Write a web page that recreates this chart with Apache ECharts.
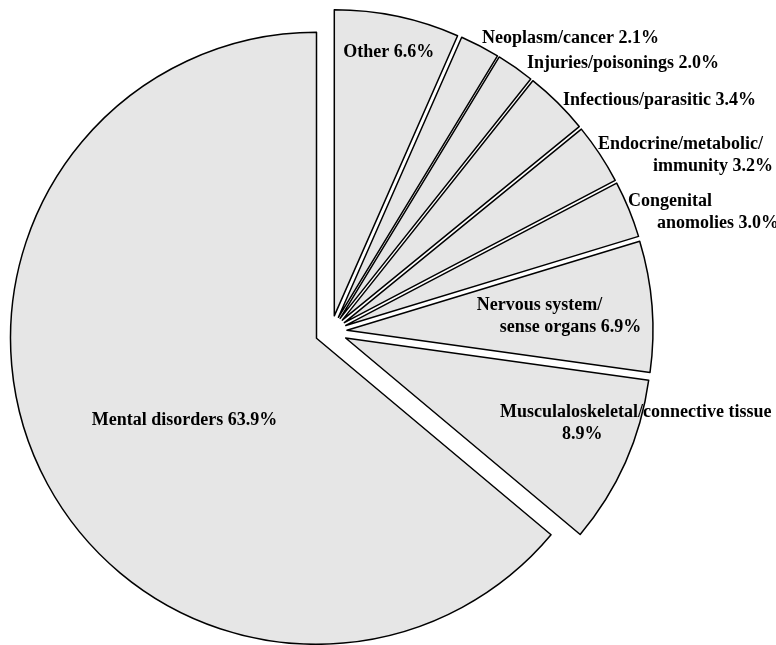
<!DOCTYPE html>
<html>
<head>
<meta charset="utf-8">
<script src="https://cdn.jsdelivr.net/npm/echarts@6/dist/echarts.min.js"></script>
<style>
  html, body { margin: 0; padding: 0; background: #ffffff; }
  #chart { width: 776px; height: 645px; }
</style>
</head>
<body>
<div id="chart"></div>
<script>
// Share of cases by diagnostic group (%), clockwise from 12 o'clock
const categories = [
  'Other',
  'Neoplasm/cancer',
  'Injuries/poisonings',
  'Infectious/parasitic',
  'Endocrine/metabolic/immunity',
  'Congenital anomolies',
  'Nervous system/sense organs',
  'Musculaloskeletal/connective tissue',
  'Mental disorders'
];
const shares = [6.6, 2.1, 2.0, 3.4, 3.2, 3.0, 6.9, 8.9, 63.9];

// Where a label breaks onto a second line, and how far that line is indented
const wrapAfter = [null, null, null, null, 'Endocrine/metabolic/', 'Congenital', 'Nervous system/', 'Musculaloskeletal/connective tissue', null];
const secondLineIndent = [0, 0, 0, 0, 55, 29, 23, 62, 0];

// Label anchor: angle from the slice bisector (deg), distance from the slice apex (x radius), alignment
const labelSpots = [
  { dAng: -0.2, r: 0.880, align: 'center' },
  { dAng: -0.3, r: 1.026, align: 'left' },
  { dAng: 1.26, r: 1.034, align: 'left' },
  { dAng: 0.45, r: 1.019, align: 'left' },
  { dAng: 0.0,  r: 0.994, align: 'left' },
  { dAng: 0.5,  r: 0.993, align: 'left' },
  { dAng: -1.7, r: 0.427, align: 'left' },
  { dAng: 4.9,  r: 0.576, align: 'left' },
  { dAng: -6.75, r: 0.507, align: 'center' }
];

const CENTER = [331, 331.5];
const RADIUS = 306;
const EXPLODE = 16;
const FONT = { fontFamily: 'Liberation Serif', fontWeight: 'bold', fontSize: 18, lineHeight: 22, color: '#000' };

const total = shares.reduce((a, b) => a + b, 0);
// bisector of each slice in degrees clockwise from 12 o'clock
const mids = [];
let acc = 0;
shares.forEach(v => { mids.push((acc + v / 2) / total * 360); acc += v; });

function apexOf(i) {
  const a = mids[i] * Math.PI / 180;
  return [CENTER[0] + EXPLODE * Math.sin(a), CENTER[1] - EXPLODE * Math.cos(a)];
}

function labelText(i) {
  const full = categories[i] + ' ' + shares[i].toFixed(1) + '%';
  const brk = wrapAfter[i];
  if (!brk) return '{l1|' + full + '}';
  const rest = full.slice(brk.length).trim();
  return '{l1|' + brk + '}\n{l2|' + rest + '}';
}

const series = categories.map((_, i) => {
  const apex = apexOf(i);
  return {
    type: 'pie',
    silent: true,
    animation: false,
    radius: RADIUS,
    center: apex,
    startAngle: 90,
    clockwise: true,
    avoidLabelOverlap: false,
    emphasis: { disabled: true },
    labelLine: { show: false },
    data: categories.map((name, j) => {
      if (j !== i) {
        return {
          name, value: shares[j],
          itemStyle: { color: 'rgba(0,0,0,0)', borderWidth: 0 },
          label: { show: false }
        };
      }
      return {
        name, value: shares[j],
        itemStyle: { color: '#e6e6e6', borderColor: '#000', borderWidth: 1.5 },
        label: {
          show: true,
          position: 'inside',
          formatter: () => labelText(j),
          rich: {
            l1: Object.assign({}, FONT),
            l2: Object.assign({ padding: [0, 0, 0, secondLineIndent[j]] }, FONT)
          }
        }
      };
    }),
    labelLayout: params => {
      const spot = labelSpots[params.dataIndex];
      const a = (mids[params.dataIndex] + spot.dAng) * Math.PI / 180;
      const d = spot.r * RADIUS;
      return {
        x: apex[0] + d * Math.sin(a),
        y: apex[1] - d * Math.cos(a),
        align: spot.align,
        verticalAlign: 'middle'
      };
    }
  };
});

const chart = echarts.init(document.getElementById('chart'), null, { renderer: 'canvas' });
chart.setOption({
  backgroundColor: '#ffffff',
  animation: false,
  tooltip: { show: false },
  series: series
});
</script>
</body>
</html>
